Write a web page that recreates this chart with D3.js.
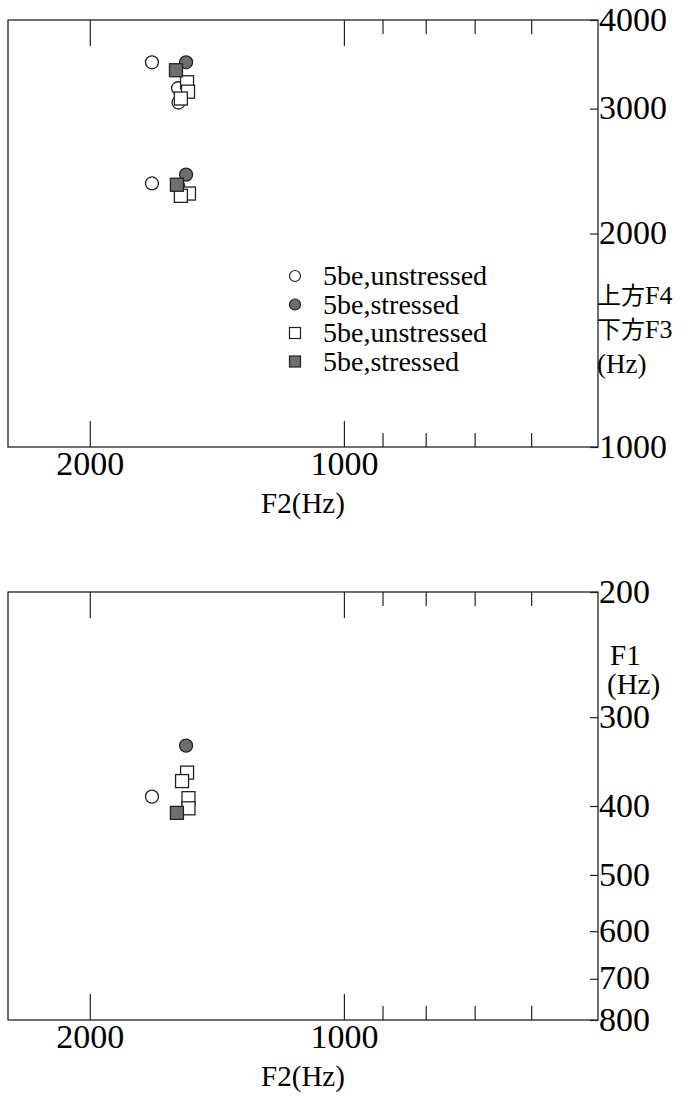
<!DOCTYPE html>
<html>
<head>
<meta charset="utf-8">
<script src="https://cdn.jsdelivr.net/npm/d3@7"></script>
<style>
    body { margin: 0; background: #fff; }
</style>
</head>
<body>
<div id="chart"></div>
<script>
//Данные: [F2, F] в герцах
const topOpenCircle = [[1688, 3487], [1572, 3205], [1570, 3060], [1688, 2353], [1572, 2335]];
const topFilledCircle = [[1538, 3487], [1538, 2421]];
const topOpenSquare = [[1534, 3268], [1530, 3170], [1560, 3100], [1526, 2277], [1560, 2260]];
const topFilledSquare = [[1581, 3398], [1577, 2343]];

const botOpenCircle = [[1688, 388]];
const botFilledCircle = [[1538, 329]];
const botOpenSquare = [[1534, 359], [1555, 369], [1528, 390], [1528, 403]];
const botFilledSquare = [[1577, 409]];

const xMajor = [2000, 1000];
const xMinor = [900, 800, 700, 600];
const topTicks = [1000, 2000, 3000, 4000];
const botTicks = [200, 300, 400, 500, 600, 700, 800];
const legendLabels = ["5be,unstressed", "5be,stressed", "5be,unstressed", "5be,stressed"];

const W = 688, H = 1096;
const left = 8, right = 598;
const serif = "'Liberation Serif', 'DejaVu Serif', serif";
const cjk = "'Noto Sans CJK JP', 'Noto Sans CJK SC', sans-serif";

const svg = d3.select("#chart").append("svg")
    .attr("width", W)
    .attr("height", H)
    .style("font-family", serif);

const x = d3.scaleLog().domain([2500, 500]).range([left, right]);

const grey = "#6e6e6e";
const styles = [
    { shape: "circle", fill: "#fff" },
    { shape: "circle", fill: grey },
    { shape: "square", fill: "#fff" },
    { shape: "square", fill: grey }
];

//Рисуем один график
function panel(y, top, bottom, ticks, series) {
    const g = svg.append("g");

    //Рамка
    g.append("rect")
        .attr("x", left).attr("y", top)
        .attr("width", right - left).attr("height", bottom - top)
        .attr("fill", "none").attr("stroke", "#222").attr("stroke-width", 1.3);

    //Нижняя ось
    const fmt = d3.format("d");
    g.append("g").attr("transform", `translate(0,${bottom})`)
        .call(d3.axisBottom(x).tickValues(xMajor).tickSize(-26).tickPadding(4).tickFormat(fmt))
        .call(a => a.select(".domain").remove())
        .call(a => a.selectAll("text").style("font-family", serif).style("font-size", "34px").attr("dy", "0.71em"));
    g.append("g").attr("transform", `translate(0,${bottom})`)
        .call(d3.axisBottom(x).tickValues(xMinor).tickSize(-14).tickFormat(""))
        .call(a => a.select(".domain").remove());

    //Верхние засечки
    g.append("g").attr("transform", `translate(0,${top})`)
        .call(d3.axisTop(x).tickValues(xMajor).tickSize(-26).tickFormat(""))
        .call(a => a.select(".domain").remove());
    g.append("g").attr("transform", `translate(0,${top})`)
        .call(d3.axisTop(x).tickValues(xMinor).tickSize(-14).tickFormat(""))
        .call(a => a.select(".domain").remove());

    //Правая ось
    g.append("g").attr("transform", `translate(${right},0)`)
        .call(d3.axisRight(y).tickValues(ticks).tickSize(-8).tickPadding(1).tickFormat(fmt))
        .call(a => a.select(".domain").remove())
        .call(a => a.selectAll("text").style("font-family", serif).style("font-size", "34px").attr("dy", "0.3em"));

    g.selectAll(".tick line").attr("stroke", "#222").attr("stroke-width", 1.2);

    g.append("text")
        .attr("x", 303).attr("y", bottom + 66)
        .attr("text-anchor", "middle")
        .style("font-family", serif)
        .style("font-size", "29px")
        .text("F2(Hz)");

    //Точки
    series.forEach((data, i) => {
        const s = styles[i];
        if (s.shape === "circle") {
            g.selectAll(null).data(data).enter().append("circle")
                .attr("cx", d => x(d[0])).attr("cy", d => y(d[1])).attr("r", 6.5)
                .attr("fill", s.fill).attr("stroke", "#222").attr("stroke-width", 1.3);
        } else {
            g.selectAll(null).data(data).enter().append("rect")
                .attr("x", d => x(d[0]) - 6.5).attr("y", d => y(d[1]) - 6.5)
                .attr("width", 13).attr("height", 13)
                .attr("fill", s.fill).attr("stroke", "#222").attr("stroke-width", 1.3);
        }
    });
    return g;
}

const yTop = d3.scaleLog().domain([1000, 4000]).range([447, 20]);
const yBot = d3.scaleLog().domain([800, 200]).range([1020, 592]);

const g1 = panel(yTop, 20, 447, topTicks, [topOpenCircle, topFilledCircle, topOpenSquare, topFilledSquare]);
const g2 = panel(yBot, 592, 1020, botTicks, [botOpenCircle, botFilledCircle, botOpenSquare, botFilledSquare]);

//Легенда
const legend = g1.append("g").attr("transform", "translate(295,276)");
legendLabels.forEach((label, i) => {
    const s = styles[i];
    const row = legend.append("g").attr("transform", `translate(0,${i * 28.5})`);
    if (s.shape === "circle") {
        row.append("circle").attr("r", 5.5)
            .attr("fill", s.fill).attr("stroke", "#222").attr("stroke-width", 1.2);
    } else {
        row.append("rect").attr("x", -5.5).attr("y", -5.5).attr("width", 11).attr("height", 11)
            .attr("fill", s.fill).attr("stroke", "#222").attr("stroke-width", 1.2);
    }
    row.append("text").attr("x", 28).attr("dy", "0.33em")
        .style("font-family", serif)
        .style("font-size", "28px")
        .text(label);
});

//Подписи правой оси
function rightLabel(parent, cjkPart, latin, x0, y, size) {
    const t = parent.append("text").attr("x", x0).attr("y", y)
        .style("font-family", serif).style("font-size", size + "px");
    if (cjkPart) t.append("tspan").style("font-family", cjk).text(cjkPart);
    t.append("tspan").style("font-size", (size + 2) + "px").text(latin);
    return t;
}
rightLabel(g1, "上方", "F4", 597, 304, 24);
rightLabel(g1, "下方", "F3", 597, 338, 24);
rightLabel(g1, null, "(Hz)", 597, 373, 25);

rightLabel(g2, null, "F1", 610, 665, 27);
rightLabel(g2, null, "(Hz)", 607, 694, 27);
</script>
</body>
</html>
